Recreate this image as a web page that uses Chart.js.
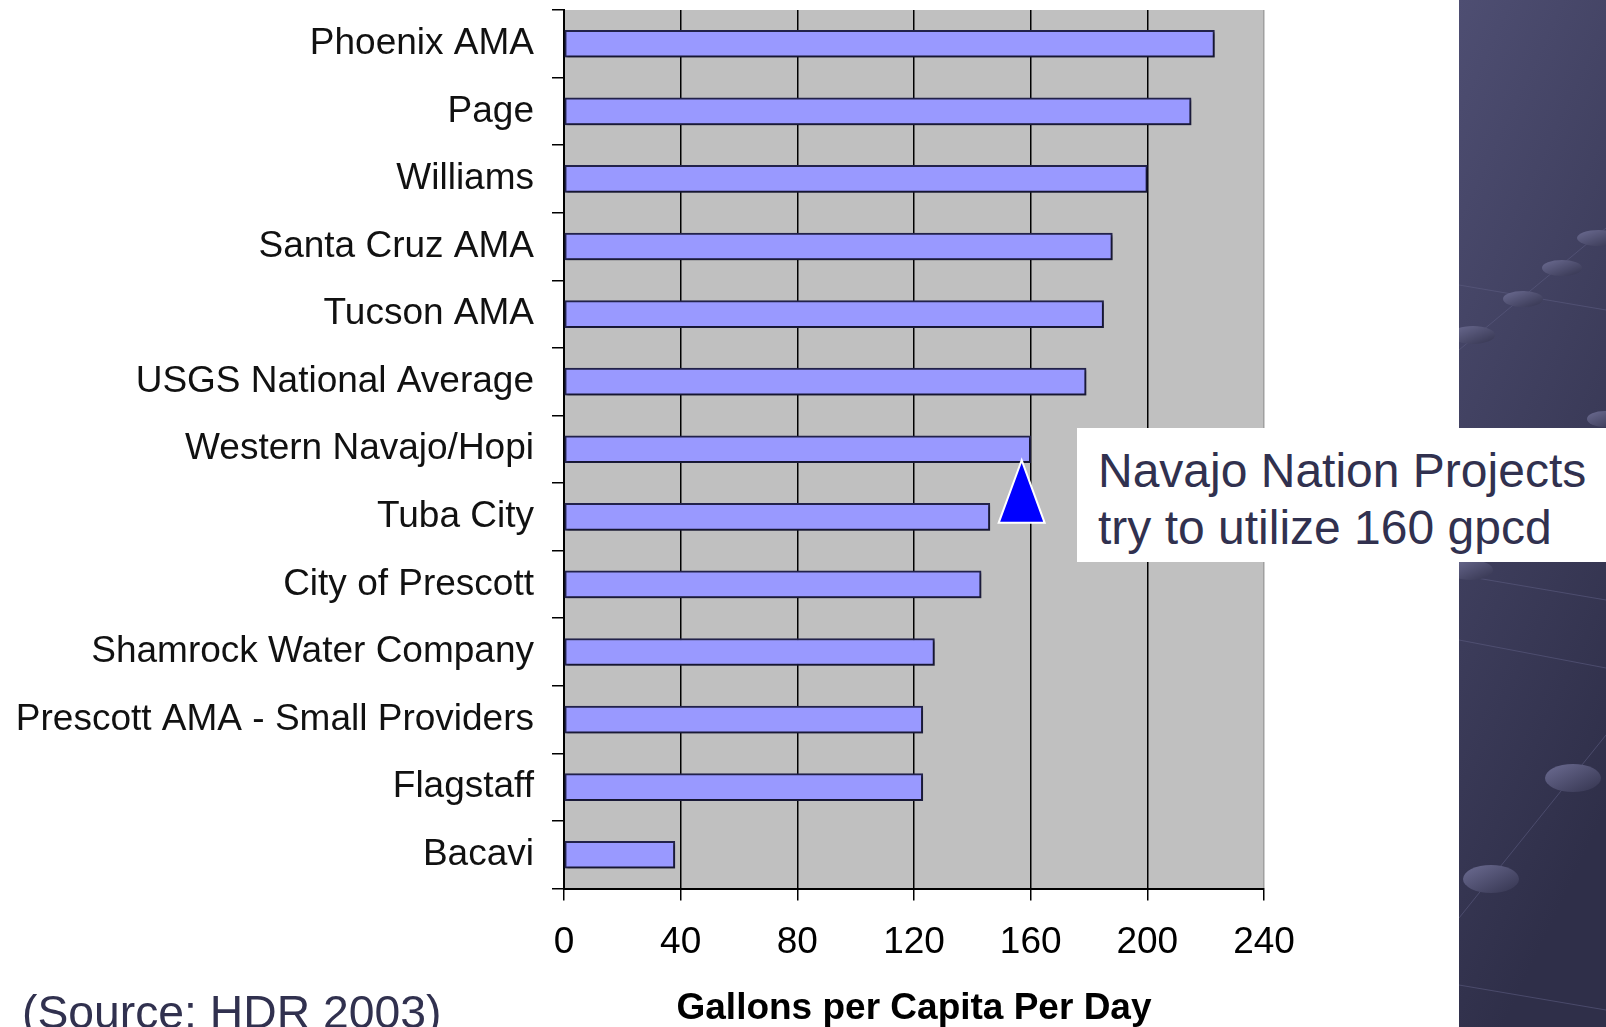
<!DOCTYPE html>
<html>
<head>
<meta charset="utf-8">
<title>Gallons per Capita Per Day</title>
<script src="https://cdn.jsdelivr.net/npm/chart.js@4.4.1/dist/chart.umd.min.js"></script>
<style>
  html, body { margin: 0; padding: 0; background: #fff; width: 1606px; height: 1027px; overflow: hidden; }
  #panel { position: absolute; left: 1459px; top: 0; width: 147px; height: 1027px; z-index: 0; }
  #wrap { position: absolute; left: 0; top: 0; width: 1606px; height: 1027px; z-index: 1; }
  #note {
    position: absolute; left: 1077px; top: 428px; width: 529px; height: 134px; z-index: 2;
    background: #fff; box-sizing: border-box; padding: 15px 0 0 21px;
    font-family: 'Liberation Sans', Arial, sans-serif; font-size: 48px; line-height: 56.5px; color: #31314f;
    white-space: nowrap;
  }
  #source {
    position: absolute; left: 22px; top: 988px; z-index: 2;
    font-family: 'Liberation Sans', Arial, sans-serif; font-size: 46.3px; line-height: 48px; color: #31314f;
    white-space: nowrap;
  }
</style>
</head>
<body>
<svg id="panel" width="147" height="1027" viewBox="0 0 147 1027">
  <defs>
    <linearGradient id="bg" x1="0" y1="0" x2="0.3" y2="1">
      <stop offset="0" stop-color="#4e4e72"/>
      <stop offset="1" stop-color="#2f2f49"/>
    </linearGradient>
    <linearGradient id="dot" x1="0" y1="0" x2="1" y2="1">
      <stop offset="0" stop-color="#6c6c92"/>
      <stop offset="1" stop-color="#34344f"/>
    </linearGradient>
  </defs>
  <rect width="147" height="1027" fill="url(#bg)"/>
  <g stroke="#5c5c80" stroke-width="1" opacity="0.6">
    <line x1="0" y1="350" x2="147" y2="228"/>
    <line x1="0" y1="918" x2="147" y2="735"/>
    <line x1="0" y1="285" x2="147" y2="310"/>
    <line x1="0" y1="575" x2="147" y2="600"/>
    <line x1="0" y1="640" x2="147" y2="668"/>
    <line x1="0" y1="985" x2="147" y2="1010"/>
  </g>
  <g fill="url(#dot)">
    <ellipse cx="140" cy="238" rx="22" ry="8"/>
    <ellipse cx="103" cy="268" rx="20" ry="8"/>
    <ellipse cx="64" cy="299" rx="20" ry="8"/>
    <ellipse cx="14" cy="335" rx="22" ry="9"/>
    <ellipse cx="146" cy="419" rx="18" ry="8"/>
    <ellipse cx="12" cy="570" rx="22" ry="10"/>
    <ellipse cx="114" cy="778" rx="28" ry="14"/>
    <ellipse cx="32" cy="879" rx="28" ry="14"/>
  </g>
</svg>

<div id="wrap"><canvas id="chart"></canvas></div>

<div id="note">Navajo Nation Projects<br>try to utilize 160 gpcd</div>
<div id="source">(Source: HDR 2003)</div>

<script>
// Données (gallons par habitant et par jour)
const categories = [
  'Phoenix AMA',
  'Page',
  'Williams',
  'Santa Cruz AMA',
  'Tucson AMA',
  'USGS National Average',
  'Western Navajo/Hopi',
  'Tuba City',
  'City of Prescott',
  'Shamrock Water Company',
  'Prescott AMA - Small Providers',
  'Flagstaff',
  'Bacavi'
];
const gpcd = [223, 215, 200, 188, 185, 179, 160, 146, 143, 127, 123, 123, 38];
const xTicks = [0, 40, 80, 120, 160, 200, 240];
const targetGpcd = 160;
const markerCategory = 'Western Navajo/Hopi';

const FONT = "'Liberation Sans', Arial, sans-serif";

// Fond gris de la zone de tracé
const plotBackground = {
  id: 'plotBackground',
  beforeDraw(chart) {
    const { ctx, chartArea: a } = chart;
    ctx.save();
    ctx.fillStyle = '#c0c0c0';
    ctx.fillRect(a.left, a.top, a.right - a.left, a.bottom - a.top);
    ctx.restore();
  }
};

// Ombre portée légère sous les barres
const barShadow = {
  id: 'barShadow',
  beforeDatasetsDraw(chart) {
    const ctx = chart.ctx;
    ctx.save();
    ctx.shadowColor = 'rgba(0, 0, 0, 0.35)';
    ctx.shadowOffsetX = 2;
    ctx.shadowOffsetY = 2;
    ctx.shadowBlur = 2;
  },
  afterDatasetsDraw(chart) {
    chart.ctx.restore();
  }
};

// Triangle bleu qui pointe vers la barre de 160 gpcd
const targetMarker = {
  id: 'targetMarker',
  afterDraw(chart) {
    const { ctx, scales: { x, y } } = chart;
    const i = categories.indexOf(markerCategory);
    const cx = x.getPixelForValue(targetGpcd) - 9;
    const apex = y.getPixelForValue(i) + 11;
    const base = y.getPixelForValue(i + 1) + 6;
    ctx.save();
    ctx.beginPath();
    ctx.moveTo(cx, apex);
    ctx.lineTo(cx - 23, base);
    ctx.lineTo(cx + 23, base);
    ctx.closePath();
    ctx.fillStyle = '#0000ff';
    ctx.fill();
    ctx.strokeStyle = '#ffffff';
    ctx.lineWidth = 2;
    ctx.stroke();
    ctx.restore();
  }
};

new Chart(document.getElementById('chart'), {
  type: 'bar',
  data: {
    labels: categories,
    datasets: [{
      data: gpcd,
      backgroundColor: '#9999ff',
      borderColor: '#22224a',
      borderWidth: 2,
      borderSkipped: false,
      barThickness: 27
    }]
  },
  options: {
    indexAxis: 'y',
    responsive: true,
    maintainAspectRatio: false,
    devicePixelRatio: 1,
    animation: false,
    layout: {
      padding: { top: 10, right: 342, bottom: 0, left: 0 }
    },
    plugins: {
      legend: { display: false },
      tooltip: { enabled: false }
    },
    scales: {
      x: {
        type: 'linear',
        position: 'bottom',
        min: 0,
        max: 240,
        afterBuildTicks: scale => {
          scale.ticks = xTicks.map(v => ({ value: v }));
        },
        afterFit: scale => {
          scale.height = 138.5;
        },
        grid: {
          color: ctx => (ctx.tick && ctx.tick.value === 240 ? '#a0a0a0' : '#000000'),
          tickColor: '#000000',
          lineWidth: 1.5,
          tickLength: 12
        },
        border: { color: '#000000', width: 2 },
        ticks: {
          color: '#000000',
          padding: 20,
          maxRotation: 0,
          font: { family: FONT, size: 37 }
        },
        title: {
          display: true,
          text: 'Gallons per Capita Per Day',
          color: '#000000',
          font: { family: FONT, size: 37, weight: 'bold', lineHeight: 1 },
          padding: { top: 27, bottom: 0 }
        }
      },
      y: {
        type: 'category',
        afterFit: scale => {
          scale.width = 564;
          // les étiquettes sont centrées dans leur bande : pas de marge en plus
          scale.paddingTop = 0;
          scale.paddingBottom = 0;
        },
        grid: {
          offset: true,
          drawOnChartArea: false,
          color: '#000000',
          lineWidth: 1.5,
          tickLength: 12
        },
        border: { color: '#000000', width: 2 },
        ticks: {
          color: '#111111',
          padding: 18,
          font: { family: FONT, size: 37 }
        }
      }
    }
  },
  plugins: [plotBackground, barShadow, targetMarker]
});
</script>
</body>
</html>
